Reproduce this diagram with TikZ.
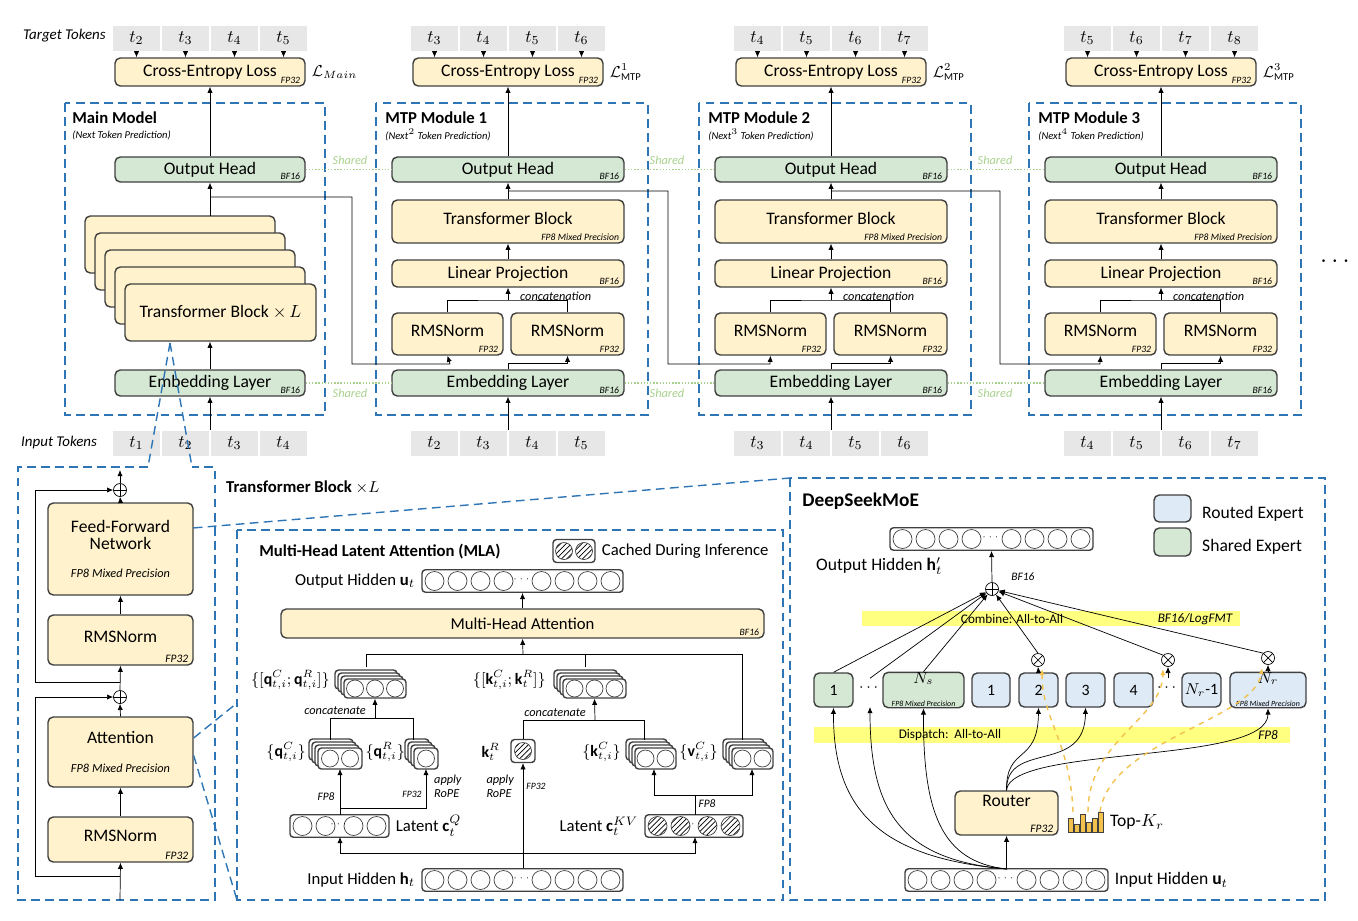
\documentclass[tikz,border=0pt]{standalone}
\usepackage{amsmath,amssymb}
\usepackage{fontspec}
\setmainfont{Carlito}
\usepackage{tikz}
\usetikzlibrary{arrows.meta, positioning, patterns}

\definecolor{ylwF}{HTML}{FFF2CC}
\definecolor{grnF}{HTML}{D5E8D4}
\definecolor{bluF}{HTML}{DEEAF6}
\definecolor{dashB}{HTML}{2E75B6}
\definecolor{tokG}{HTML}{E7E7E7}
\definecolor{shrG}{HTML}{A9D18E}
\definecolor{bandY}{HTML}{FFFF55}
\definecolor{edgeD}{HTML}{404040}
\definecolor{topK}{HTML}{F2C14E}

\tikzset{
  every node/.style={font=\fontsize{9}{10}\selectfont},
  >={Latex[length=3.5pt,width=3pt]},
  box/.style={draw=edgeD, rounded corners=3pt, inner sep=0pt, align=center, thick},
  ylw/.style={box, fill=ylwF},
  grn/.style={box, fill=grnF},
  blu/.style={box, fill=bluF},
  vbox/.style={draw=edgeD, rounded corners=2pt, fill=white, inner sep=0pt, thick},
  tok/.style={fill=tokG, inner sep=0pt, minimum width=0.94cm, minimum height=0.5cm, font=\fontsize{10}{10}\selectfont},
  tagtxt/.style={font=\fontsize{5.5}{6}\itshape\selectfont, inner sep=1pt},
  ttl/.style={font=\fontsize{9.5}{10}\bfseries\selectfont, anchor=west, inner sep=0pt},
  sub/.style={font=\fontsize{6}{7}\itshape\selectfont, anchor=west, inner sep=0pt},
  mod/.style={draw=dashB, dashed, thick, dash pattern=on 5pt off 3pt},
  shr/.style={shrG, densely dotted, thick},
  shrtxt/.style={text=shrG, font=\fontsize{7}{8}\itshape\selectfont},
  oplus/.style={circle, draw, inner sep=0pt, minimum size=0.26cm, fill=white,
    path picture={\draw (path picture bounding box.north)--(path picture bounding box.south)
      (path picture bounding box.west)--(path picture bounding box.east);}},
  otimes/.style={circle, draw, inner sep=0pt, minimum size=0.26cm, fill=white,
    path picture={\draw (path picture bounding box.north west)--(path picture bounding box.south east)
      (path picture bounding box.south west)--(path picture bounding box.north east);}},
  circ/.style={draw=edgeD},
  hcirc/.style={draw=edgeD, pattern=north east lines},
  band/.style={fill=bandY, opacity=0.75},
  ydash/.style={->, topK, dashed, thick},
}

% block: style, name, x1, y1, x2, y2, text
\newcommand{\blk}[7]{\node[#1, minimum width={((#5)-(#3))*0.02cm}, minimum height={((#6)-(#4))*0.02cm}] (#2) at ({((#3)+(#5))/2},{((#4)+(#6))/2}) {#7};}
% tag at the lower right corner of a node
\newcommand{\tagr}[2]{\node[tagtxt, anchor=south east] at ([shift={(-2pt,0.5pt)}]#1.south east) {#2};}
% raised block text
\newcommand{\up}[1]{\raisebox{4pt}{\fontsize{10}{11}\selectfont #1}}
% vector of circles: name, x1, x2, yc, n per side, circle style
\newcommand{\cvec}[6]{%
  \node[vbox, minimum width={(#3-#2)*0.02cm}, minimum height=0.45cm] (#1) at ({(#2+#3)/2},#4) {};
  \foreach \i in {1,...,#5}{
    \draw[#6] ({#2+1+11.5*(2*\i-1)},#4) circle[radius=0.19cm];
    \draw[#6] ({#3-1-11.5*(2*\i-1)},#4) circle[radius=0.19cm];}
  \node[font=\tiny] at ({(#2+#3)/2},{#4-2}) {$\cdots$};}
% stacked heads: name, x1, y1, x2, y2, n circles, circle style
\newcommand{\stk}[7]{%
  \foreach \s in {3,2,1}{\draw[vbox] ({#2-3*\s},{#3-3*\s}) rectangle ({#4-3*\s},{#5-3*\s});}
  \node[vbox, minimum width={(#4-#2)*0.02cm}, minimum height={(#5-#3)*0.02cm}] (#1) at ({(#2+#4)/2},{(#3+#5)/2}) {};
  \foreach \i in {1,...,#6}{\draw[#7] ({(#2+#4)/2+20*(\i-(#6+1)/2)},{(#3+#5)/2}) circle[radius=0.17cm];}}

\begin{document}
\begin{tikzpicture}[x=0.02cm, y=-0.02cm]
\useasboundingbox (0,0) rectangle (1358,920);

%% ---------------- top row: main model ----------------
\node[font=\fontsize{8.5}{9}\itshape\selectfont, anchor=west] at (17,36) {Target Tokens};
\node[font=\fontsize{8.5}{9}\itshape\selectfont, anchor=west] at (15,443) {Input Tokens};
\draw[mod] (65,103) rectangle (325,415);
\node[ttl] at (72,118) {Main Model};
\node[sub] at (72,135) {(Next Token Prediction)};
\blk{ylw}{loss0}{115}{58}{305}{86}{\fontsize{10}{11}\selectfont Cross-Entropy Loss}
\tagr{loss0}{FP32}
\node[anchor=west] at (loss0.east) {$\mathcal{L}_{Main}$};
\foreach \n [count=\j] in {2,...,5}{
  \node[tok] (tt0\j) at ({210+49*(\j-2.5)},38) {$t_{\n}$};
  \draw[->] (tt0\j.south) -- (tt0\j.south |- loss0.north);}
\blk{grn}{head0}{115}{157}{305}{182}{\fontsize{10}{11}\selectfont Output Head}
\tagr{head0}{BF16}
\foreach \s in {0,...,3}{
  \draw[ylw] ({85+10*\s},{216+17*\s}) rectangle ({275+10*\s},{273+17*\s});}
\blk{ylw}{tb0}{125}{284}{316}{341}{\fontsize{10}{11}\selectfont Transformer Block $\times\,L$}
\blk{grn}{emb0}{115}{370}{305}{396}{\fontsize{10}{11}\selectfont Embedding Layer}
\tagr{emb0}{BF16}
\foreach \n [count=\j] in {1,...,4}{
  \node[tok] (bt0\j) at ({210+49*(\j-2.5)},443) {$t_{\n}$};}
\draw[->] (210,216) -- (head0.south);
\draw[->] (head0.north) -- (loss0.south);
\draw[->] (emb0.north) -- (emb0.north |- tb0.south);
\draw[->] (210,430) -- (emb0.south);

%% ---------------- top row: MTP modules ----------------
\foreach \c [count=\k] in {508,831,1161}{
  \pgfmathtruncatemacro\nn{\k+1}
  \draw[mod] ({\c-132},103) rectangle ({\c+140},415);
  \node[ttl] at ({\c-123},118) {MTP Module \k};
  \node[sub] at ({\c-123},135) {(Next$^{\nn}$ Token Prediction)};
  \blk{ylw}{loss\k}{\c-95}{58}{\c+95}{86}{\fontsize{10}{11}\selectfont Cross-Entropy Loss}
  \tagr{loss\k}{FP32}
  \node[anchor=west] at (loss\k.east) {$\mathcal{L}^{\k}_{\text{MTP}}$};
  \foreach \j in {1,...,4}{
    \pgfmathtruncatemacro\tn{\k+\j+1}
    \pgfmathtruncatemacro\bn{\k+\j}
    \node[tok] (tt\k\j) at ({\c+49*(\j-2.5)},38) {$t_{\tn}$};
    \draw[->] (tt\k\j.south) -- (tt\k\j.south |- loss\k.north);
    \node[tok] (bt\k\j) at ({\c+49*(\j-2.5)},443) {$t_{\bn}$};}
  \blk{grn}{head\k}{\c-116}{157}{\c+116}{182}{\fontsize{10}{11}\selectfont Output Head}
  \tagr{head\k}{BF16}
  \blk{ylw}{tb\k}{\c-116}{200}{\c+116}{243}{\up{Transformer Block}}
  \tagr{tb\k}{FP8 Mixed Precision}
  \blk{ylw}{lp\k}{\c-116}{260}{\c+116}{287}{\fontsize{10}{11}\selectfont Linear Projection}
  \tagr{lp\k}{BF16}
  \blk{ylw}{rl\k}{\c-116}{313}{\c-5}{355}{\up{RMSNorm}}
  \tagr{rl\k}{FP32}
  \blk{ylw}{rr\k}{\c+3}{313}{\c+116}{355}{\up{RMSNorm}}
  \tagr{rr\k}{FP32}
  \blk{grn}{emb\k}{\c-116}{370}{\c+116}{396}{\fontsize{10}{11}\selectfont Embedding Layer}
  \tagr{emb\k}{BF16}
  \draw[->] (\c,430) -- (emb\k.south);
  \draw[->] (emb\k.north) -- (\c,363) -| (rr\k.south);
  \draw (rl\k.north) |- (\c,300) -| (rr\k.north);
  \draw[->] (\c,300) -- (lp\k.south);
  \node[font=\fontsize{7}{8}\itshape\selectfont, anchor=west] at ({\c+6},296) {concatenation};
  \draw[->] (lp\k.north) -- (tb\k.south);
  \draw[->] (tb\k.north) -- (head\k.south);
  \draw[->] (head\k.north) -- (loss\k.south);
}
% hidden states passed to the next module
\draw[->] (210,197) -- (352,197) |- (450,364) -- (rl1.south);
\draw[->] (508,191) -- (668,191) |- (770,364) -- (rl2.south);
\draw[->] (831,191) -- (1000,191) |- (1100,364) -- (rl3.south);
% shared weights
\foreach \a/\b/\x in {0/1/350,1/2/667,2/3/995}{
  \draw[shr] (head\a.east) -- (head\b.west);
  \node[shrtxt] at (\x,160) {Shared};
  \draw[shr] (emb\a.east) -- (emb\b.west);
  \node[shrtxt] at (\x,393) {Shared};}
\node[font=\Large] at (1337,262) {$\cdots$};

%% ---------------- transformer block detail ----------------
\draw[mod] (148,467) -- (18,467) -- (18,900) -- (215,900) -- (215,467) -- (192,467);
\draw[mod] (170,343) -- (148,467);
\draw[mod] (170,343) -- (192,467);
\node[font=\fontsize{9.5}{10}\bfseries\selectfont, anchor=west] at (220,487) {Transformer Block $\times L$};
\node[oplus] (addA) at (120,490) {};
\blk{ylw}{ffn}{48}{503}{193}{595}{\fontsize{10}{11}\selectfont Feed-Forward\\\fontsize{10}{11}\selectfont Network\\[6pt]{\fontsize{7}{8}\itshape\selectfont FP8 Mixed Precision}}
\blk{ylw}{rmsA}{48}{615}{193}{665}{\up{RMSNorm}}
\tagr{rmsA}{\fontsize{6.5}{7}\itshape\selectfont FP32}
\node[oplus] (addB) at (120,697) {};
\blk{ylw}{attn}{48}{717}{193}{787}{\fontsize{10}{11}\selectfont Attention\\[6pt]{\fontsize{7}{8}\itshape\selectfont FP8 Mixed Precision}}
\blk{ylw}{rmsB}{48}{817}{193}{862}{\up{RMSNorm}}
\tagr{rmsB}{\fontsize{6.5}{7}\itshape\selectfont FP32}
\coordinate (tbIn) at (120,900);
\coordinate (tbOut) at (120,470);
\draw[->] (tbIn) -- (rmsB.south);
\draw[->] (rmsB.north) -- (attn.south);
\draw[->] (attn.north) -- (addB.south);
\draw[->] (addB.north) -- (rmsA.south);
\draw[->] (rmsA.north) -- (ffn.south);
\draw[->] (ffn.north) -- (addA.south);
\draw[->] (addA.north) -- (tbOut);
\draw[->] (120,876) -- (35,876) |- (addB.west);
\draw[->] (120,682) -- (35,682) |- (addA.west);

%% ---------------- MLA ----------------
\draw[mod] (237,530) rectangle (783,900);
\draw[mod] (attn.east) ++(0,8pt) -- (237,703);
\draw[mod] (attn.east) ++(0,-2pt) -- (237,900);
\draw[mod] (ffn.east) ++(0,12pt) -- (790,478);
\node[ttl] at (259,552) {Multi-Head Latent Attention (MLA)};
\node[vbox, minimum width=0.84cm, minimum height=0.46cm] (cache) at (574,551) {};
\draw[hcirc] (564,551) circle[radius=0.17cm];
\draw[hcirc] (584,551) circle[radius=0.17cm];
\node[anchor=west, font=\fontsize{9.5}{10}\selectfont] at (cache.east) {Cached During Inference};
\cvec{outU}{422}{623}{581}{4}{circ}
\node[anchor=east, font=\fontsize{9.5}{10}\selectfont] at (outU.west) {Output Hidden $\mathbf{u}_t$};
\blk{ylw}{mha}{281}{609}{764}{638}{\fontsize{9.5}{10}\selectfont Multi-Head Attention}
\tagr{mha}{BF16}
\draw[->] (mha.north) -- (outU.south);
\stk{qst}{344}{679}{406}{698}{3}{circ}
\node[anchor=east] at (336,680) {$\{[\mathbf{q}^C_{t,i};\mathbf{q}^R_{t,i}]\}$};
\stk{kst}{563}{679}{626}{698}{3}{circ}
\node[anchor=east] at (552,680) {$\{[\mathbf{k}^C_{t,i};\mathbf{k}^R_{t}]\}$};
\stk{qc}{318}{748}{362}{769}{2}{circ}
\node[anchor=east] at (312,752) {$\{\mathbf{q}^C_{t,i}\}$};
\stk{qr}{414}{748}{438}{769}{1}{circ}
\node[anchor=east, inner sep=1pt] at (407,752) {$\{\mathbf{q}^R_{t,i}\}$};
\node[vbox, minimum width=0.48cm, minimum height=0.46cm] (kr) at (523,751) {};
\draw[hcirc] (523,751) circle[radius=0.17cm];
\node[anchor=east] at (506,752) {$\mathbf{k}^R_t$};
\stk{kc}{635}{748}{676}{769}{2}{circ}
\node[anchor=east] at (627,752) {$\{\mathbf{k}^C_{t,i}\}$};
\stk{vc}{732}{748}{773}{769}{2}{circ}
\node[anchor=east] at (724,752) {$\{\mathbf{v}^C_{t,i}\}$};
\cvec{cq}{290}{389}{826}{2}{circ}
\node[anchor=west, font=\fontsize{9.5}{10}\selectfont] at (cq.east) {Latent $\mathbf{c}^Q_t$};
\cvec{ckv}{645}{743}{826}{2}{hcirc}
\node[anchor=east, font=\fontsize{9.5}{10}\selectfont] at (ckv.west) {Latent $\mathbf{c}^{KV}_t$};
\cvec{inH}{422}{623}{880}{4}{circ}
\node[anchor=east, font=\fontsize{9.5}{10}\selectfont] at (inH.west) {Input Hidden $\mathbf{h}_t$};
% wiring
\draw (366,667) |- (742,654) -- (742,740);
\draw (585,667) -- (585,654);
\draw[->] (523,654) -- (mha.south);
\draw (330,740) |- (413,718) -- (413,740);
\draw[->] (375,718) -- (qst.south);
\node[font=\fontsize{7}{8}\itshape\selectfont, anchor=east] at (372,711) {concatenate};
\draw (kr.north) |- (644,720) -- (644,740);
\draw[->] (595,720) -- (kst.south);
\node[font=\fontsize{7}{8}\itshape\selectfont, anchor=east] at (592,713) {concatenate};
\draw[->] (340,815) -- (340,769);
\draw[->] (340,808) -| (426,769);
\node[tagtxt, font=\fontsize{6.5}{7}\itshape\selectfont] at (326,797) {FP8};
\node[tagtxt] at (412,794) {FP32};
\node[font=\fontsize{7}{8}\itshape\selectfont, align=left, anchor=west] at (428,786) {apply\\RoPE};
\draw[->] (523,868) -- (kr.south);
\node[font=\fontsize{7}{8}\itshape\selectfont, align=left, anchor=east] at (520,786) {apply\\RoPE};
\node[tagtxt] at (536,786) {FP32};
\draw[->] (695,815) -- (695,795) -| (654,769);
\draw[->] (695,795) -| (752,769);
\node[tagtxt, font=\fontsize{6.5}{7}\itshape\selectfont] at (707,804) {FP8};
\draw[->] (523,853) -| (340,837);
\draw[->] (523,853) -| (695,837);

%% ---------------- DeepSeekMoE ----------------
\draw[mod] (790,478) rectangle (1325,900);
\node[ttl, font=\fontsize{11}{12}\bfseries\selectfont] at (802,501) {DeepSeekMoE};
\blk{blu}{legR}{1154}{495}{1191}{522}{}
\node[anchor=west, font=\fontsize{10}{11}\selectfont] at (1196,514) {Routed Expert};
\blk{grn}{legS}{1154}{528}{1191}{556}{}
\node[anchor=west, font=\fontsize{10}{11}\selectfont] at (1196,547) {Shared Expert};
\cvec{outH}{890}{1093}{539}{4}{circ}
\node[anchor=west, font=\fontsize{10}{11}\selectfont] at (810,566) {Output Hidden $\mathbf{h}'_t$};
\node[oplus] (plusM) at (992,589) {};
\node[tagtxt, font=\fontsize{6.5}{7}\itshape\selectfont] at (1023,577) {BF16};
\draw[->] (plusM.north) -- (outH.south);
\fill[band] (862,611) rectangle (1240,626);
\node at (1012,619) {\fontsize{7.5}{8}\selectfont Combine: All-to-All};
\node at (1195,619) {\fontsize{7.5}{8}\itshape\selectfont BF16/LogFMT};
\fill[band] (814,727) rectangle (1290,743);
\node at (950,735) {\fontsize{7.5}{8}\selectfont Dispatch:\ \ All-to-All};
\node at (1268,735) {\fontsize{7.5}{8}\itshape\selectfont FP8};
% experts
\blk{grn}{sh1}{814}{673}{853}{707}{1}
\node (shd) at (870,688) {$\cdots$};
\blk{grn}{shN}{883}{673}{964}{707}{$N_s$\\[4pt]}
\node[tagtxt, font=\fontsize{4.5}{5}\itshape\selectfont, anchor=south] at (shN.south) {FP8 Mixed Precision};
\blk{blu}{ex1}{972}{673}{1010}{707}{1}
\blk{blu}{ex2}{1019}{673}{1058}{707}{2}
\blk{blu}{ex3}{1066}{673}{1105}{707}{3}
\blk{blu}{ex4}{1114}{673}{1153}{707}{4}
\node (exd) at (1168,688) {$\cdots$};
\blk{blu}{exA}{1182}{673}{1221}{707}{$N_r$-1}
\blk{blu}{exB}{1230}{673}{1306}{707}{$N_r$\\[4pt]}
\node[tagtxt, font=\fontsize{4.5}{5}\itshape\selectfont, anchor=south] at (exB.south) {FP8 Mixed Precision};
\node[otimes] (mul2) at (1038,660) {};
\node[otimes] (mulD) at (1168,660) {};
\node[otimes] (mulB) at (1268,658) {};
\draw[->] (ex2.north) -- (mul2.south);
\draw[->] (exd.north) -- (mulD.south);
\draw[->] (exB.north) -- (mulB.south);
\foreach \src in {sh1.north, shd.north, shN.north, mul2.north, mulD.north west, mulB.north west}
  \draw[->] (\src) -- (plusM);
% router
\cvec{inU}{905}{1108}{880}{4}{circ}
\node[anchor=west, font=\fontsize{10}{11}\selectfont] at (inU.east) {Input Hidden $\mathbf{u}_t$};
\blk{ylw}{router}{955}{791}{1058}{835}{\fontsize{10}{11}\selectfont Router\\[4pt]}
\tagr{router}{\fontsize{6.5}{7}\itshape\selectfont FP32}
\draw[->] (inU.north) -- (router.south);
\draw[->] (1007,869) .. controls (880,858) and (833,810) .. (sh1.south);
\draw[->] (1007,869) .. controls (900,860) and (870,810) .. (870,707);
\draw[->] (1007,869) .. controls (940,862) and (923,810) .. (shN.south);
\draw[->] (router.north) .. controls (1006,745) and (1038,765) .. (ex2.south);
\draw[->] (router.north) .. controls (1006,740) and (1085,775) .. (ex3.south);
\draw[->] (router.north) .. controls (1010,745) and (1268,765) .. (exB.south);
% top-k scores
\foreach \x/\h in {1068/14,1074/8,1080/18,1086/10,1092/14,1098/20}
  \draw[fill=topK, draw=edgeD, thin] (\x,832) rectangle ({\x+5},{832-\h});
\node[anchor=west, font=\fontsize{10}{11}\selectfont] at (1104,822) {Top-$K_r$};
\draw[ydash] (1073,812) .. controls (1070,740) and (1042,720) .. (1042,669);
\draw[ydash] (1088,812) .. controls (1088,740) and (1162,720) .. (1163,669);
\draw[ydash] (1100,812) .. controls (1110,740) and (1255,720) .. (1262,668);
\end{tikzpicture}
\end{document}
